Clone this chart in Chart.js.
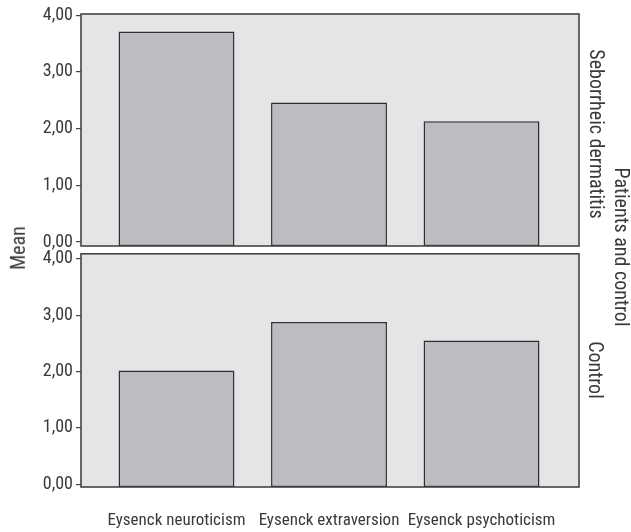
<!DOCTYPE html>
<html>
<head>
<meta charset="utf-8">
<script src="https://cdn.jsdelivr.net/npm/chart.js@4"></script>
<style>
  html, body { margin: 0; padding: 0; background: #fff; }
  #wrap { position: relative; width: 631px; height: 532px; overflow: hidden; }
  canvas { position: absolute; left: 0; }
  .lbl { position: absolute; font-family: "Roboto Condensed", Roboto, sans-serif; font-weight: 400; font-size: 20px; color: #3a3a3a; white-space: nowrap; transform-origin: center center; line-height: 1; }
</style>
</head>
<body>
<div id="wrap">
  <canvas id="c1" width="631" height="260" style="top:0"></canvas>
  <canvas id="c2" width="631" height="292" style="top:240px"></canvas>
  <div class="lbl" id="mean">Mean</div>
  <div class="lbl" id="pc">Patients and control</div>
  <div class="lbl" id="sd">Seborrheic dermatitis</div>
  <div class="lbl" id="ct">Control</div>
</div>
<script>
// ---- data ----
const categories = ['Eysenck neuroticism', 'Eysenck extraversion', 'Eysenck psychoticism'];
const seborrheicMeans = [3.71, 2.46, 2.13];
const controlMeans = [2.02, 2.88, 2.55];
const yTickValues = [0, 1, 2, 3, 4];
const panelNames = ['Seborrheic dermatitis', 'Control'];

const FONT = "'Roboto Condensed', Roboto, sans-serif";
const TEXT = '#3a3a3a';

const panelPlugin = {
  id: 'panel',
  beforeDatasetsDraw(chart) {
    const a = chart.chartArea, ctx = chart.ctx;
    ctx.save();
    ctx.fillStyle = '#e4e5e7';
    ctx.fillRect(a.left, a.top, a.right - a.left, a.bottom - a.top);
    ctx.restore();
  },
  afterDatasetsDraw(chart) {
    const a = chart.chartArea, ctx = chart.ctx;
    ctx.save();
    ctx.strokeStyle = '#444';
    ctx.lineWidth = 1.6;
    ctx.strokeRect(a.left, a.top, a.right - a.left, a.bottom - a.top);
    ctx.restore();
  }
};

function makeChart(id, values, yMin, yMax, showX, pad) {
  const data = categories.map((c, i) => ({ x: i, y: values[i] }));
  return new Chart(document.getElementById(id), {
    type: 'bar',
    data: {
      datasets: [{
        data: data,
        base: yMin,
        backgroundColor: '#bcbdc1',
        borderColor: '#2f2f2f',
        borderWidth: 1.5,
        borderSkipped: false,
        barPercentage: 0.76,
        categoryPercentage: 1.0
      }]
    },
    options: {
      responsive: false,
      animation: false,
      events: [],
      layout: { padding: pad },
      plugins: { legend: { display: false }, tooltip: { enabled: false }, title: { display: false } },
      scales: {
        x: {
          type: 'linear',
          display: showX,
          offset: false,
          min: -0.626,
          max: 2.639,
          afterBuildTicks: s => { s.ticks = categories.map((c, i) => ({ value: i })); },
          afterFit: s => { s.height = showX ? 45 : 0; },
          grid: { display: false, drawTicks: false, offset: false },
          border: { display: false },
          ticks: {
            autoSkip: false,
            maxRotation: 0,
            padding: 24,
            color: TEXT,
            font: { family: FONT, size: 17 },
            callback: v => categories[v]
          }
        },
        y: {
          min: yMin,
          max: yMax,
          afterBuildTicks: s => { s.ticks = yTickValues.map(v => ({ value: v })); },
          afterFit: s => { s.width = 81; },
          grid: { display: true, drawOnChartArea: false, drawTicks: true, tickLength: 5, color: '#444', lineWidth: 1.2 },
          border: { display: false },
          ticks: {
            padding: 3,
            color: TEXT,
            font: { family: FONT, size: 18 },
            callback: v => v.toFixed(2).replace('.', ',')
          }
        }
      }
    },
    plugins: [panelPlugin]
  });
}

makeChart('c1', seborrheicMeans, -0.07, 4.02, false, { top: 14, right: 52, bottom: 14, left: 0 });
makeChart('c2', controlMeans, -0.05, 4.09, true, { top: 13, right: 52, bottom: 0, left: 0 });

// side labels
function place(id, text, cx, cy, rot) {
  const el = document.getElementById(id);
  el.textContent = text;
  const w = el.offsetWidth, h = el.offsetHeight;
  el.style.left = (cx - w / 2) + 'px';
  el.style.top = (cy - h / 2) + 'px';
  el.style.transform = 'rotate(' + rot + 'deg)';
}
place('mean', 'Mean', 18, 248, -90);
place('pc', 'Patients and control', 622, 247, 90);
place('sd', panelNames[0], 596, 134, 90);
place('ct', panelNames[1], 596, 370, 90);
</script>
</body>
</html>
